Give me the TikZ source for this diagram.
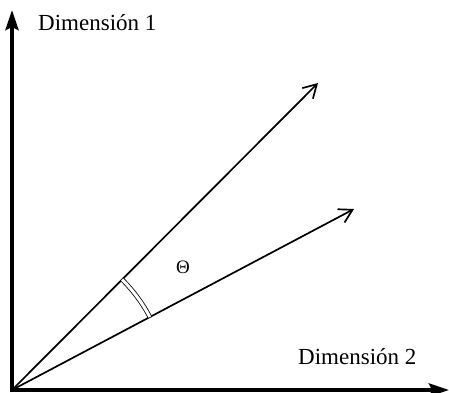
\documentclass[tikz,border=0pt]{standalone}
\usepackage{fontspec}
\setmainfont{Liberation Serif}
\usetikzlibrary{arrows.meta}
\begin{document}
\begin{tikzpicture}[x=1pt,y=1pt,
  axis/.style={line width=4pt,-{Stealth[length=20pt,width=13pt,inset=3pt]}},
  vec/.style={line width=1.7pt,-{Straight Barb[length=13pt,width=15pt,line width=1.7pt]}},
  lbl/.style={font=\fontsize{23}{26}\selectfont,inner sep=0pt,anchor=base west}]
\useasboundingbox (0,0) rectangle (449,392);
\coordinate (O) at (12,2);
\coordinate (Ob) at (12,0);
\coordinate (Ol) at (10,2);
\coordinate (Y) at (12,382);
\coordinate (X) at (449,2);
\coordinate (A) at (318,309);
\coordinate (B) at (354,183);
\draw[axis] (Ob) -- (Y);
\draw[axis] (Ol) -- (X);
\draw[vec] (O) -- (A);
\draw[vec] (O) -- (B);
\draw[line width=0.8pt,double,double distance=3pt] ([shift={(27.9:156)}]O) arc[start angle=27.9,end angle=45.1,radius=156];
\node[lbl] (d1) at (38,362) {Dimensión 1};
\node[lbl] (d2) at (298,28) {Dimensión 2};
\node[font=\fontsize{19}{21}\selectfont,inner sep=0pt] (th) at (183,125) {Θ};
\end{tikzpicture}
\end{document}
